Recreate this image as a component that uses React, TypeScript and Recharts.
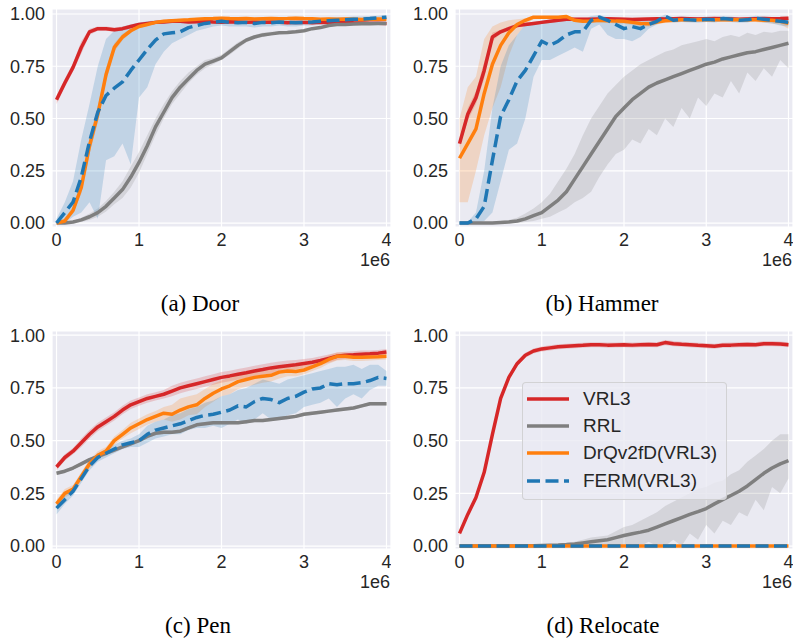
import { ComposedChart, Line, Area, XAxis, YAxis, CartesianGrid } from "recharts";

// training steps, in units of 1e6
const STEPS = [
  0, 0.1, 0.2, 0.3, 0.4, 0.5, 0.6, 0.7, 0.8, 0.9,
  1.0, 1.1, 1.2, 1.3, 1.4, 1.5, 1.6, 1.7, 1.8, 1.9,
  2.0, 2.1, 2.2, 2.3, 2.4, 2.5, 2.6, 2.7, 2.8, 2.9,
  3.0, 3.1, 3.2, 3.3, 3.4, 3.5, 3.6, 3.7, 3.8, 3.9,
  4.0,
];
const X_TICKS = [0, 1, 2, 3, 4];
const Y_TICKS = [0, 0.25, 0.5, 0.75, 1];

// ---- Door ----
const doorVrl3 = [0.59,0.67,0.745,0.84,0.915,0.93,0.93,0.925,0.93,0.94,0.95,0.955,0.96,0.962,0.965,0.965,0.962,0.963,0.965,0.962,0.96,0.963,0.962,0.96,0.962,0.96,0.962,0.96,0.958,0.96,0.96,0.958,0.96,0.96,0.958,0.96,0.958,0.957,0.956,0.956,0.955];
const doorVrl3Lo = [0.57,0.65,0.725,0.81,0.9,0.92,0.92,0.915,0.92,0.93,0.942,0.948,0.953,0.955,0.958,0.958,0.955,0.956,0.958,0.955,0.953,0.956,0.955,0.953,0.955,0.953,0.955,0.953,0.951,0.953,0.953,0.951,0.953,0.953,0.951,0.953,0.951,0.95,0.949,0.949,0.948];
const doorVrl3Hi = [0.61,0.69,0.765,0.87,0.93,0.94,0.94,0.935,0.94,0.95,0.958,0.962,0.967,0.969,0.972,0.972,0.969,0.97,0.972,0.969,0.967,0.97,0.969,0.967,0.969,0.967,0.969,0.967,0.965,0.967,0.967,0.965,0.967,0.967,0.965,0.967,0.965,0.964,0.963,0.963,0.962];
const doorRrl = [0,0,0.005,0.015,0.03,0.05,0.08,0.12,0.16,0.22,0.29,0.37,0.46,0.53,0.6,0.65,0.69,0.73,0.76,0.775,0.79,0.82,0.85,0.875,0.89,0.9,0.905,0.91,0.912,0.915,0.92,0.93,0.935,0.945,0.95,0.95,0.952,0.953,0.954,0.955,0.955];
const doorRrlLo = [0,0,0,0.005,0.015,0.03,0.055,0.09,0.12,0.17,0.24,0.33,0.42,0.5,0.57,0.62,0.67,0.71,0.74,0.76,0.78,0.805,0.835,0.865,0.88,0.89,0.9,0.905,0.905,0.91,0.915,0.925,0.93,0.94,0.945,0.945,0.948,0.948,0.95,0.95,0.95];
const doorRrlHi = [0.005,0.005,0.01,0.025,0.045,0.07,0.105,0.15,0.2,0.27,0.34,0.42,0.5,0.57,0.63,0.68,0.72,0.75,0.78,0.79,0.805,0.835,0.865,0.885,0.9,0.91,0.915,0.915,0.92,0.922,0.925,0.935,0.94,0.95,0.955,0.956,0.958,0.958,0.958,0.96,0.96];
const doorDrq = [0,0.01,0.06,0.17,0.37,0.52,0.71,0.84,0.89,0.92,0.94,0.95,0.96,0.965,0.968,0.97,0.972,0.975,0.977,0.978,0.98,0.978,0.977,0.978,0.976,0.977,0.978,0.977,0.978,0.98,0.978,0.977,0.975,0.976,0.975,0.976,0.975,0.974,0.975,0.976,0.975];
const doorDrqLo = [0,0.005,0.045,0.14,0.33,0.48,0.68,0.82,0.875,0.91,0.932,0.943,0.953,0.958,0.961,0.963,0.965,0.968,0.97,0.971,0.973,0.971,0.97,0.971,0.969,0.97,0.971,0.97,0.971,0.973,0.971,0.97,0.968,0.969,0.968,0.969,0.968,0.967,0.968,0.969,0.968];
const doorDrqHi = [0.005,0.02,0.08,0.2,0.41,0.56,0.74,0.86,0.905,0.93,0.948,0.957,0.967,0.972,0.975,0.977,0.979,0.982,0.984,0.985,0.987,0.985,0.984,0.985,0.983,0.984,0.985,0.984,0.985,0.987,0.985,0.984,0.982,0.983,0.982,0.983,0.982,0.981,0.982,0.983,0.982];
const doorFerm = [0,0.05,0.1,0.22,0.39,0.53,0.61,0.645,0.675,0.73,0.78,0.83,0.875,0.905,0.91,0.915,0.935,0.945,0.955,0.96,0.965,0.96,0.958,0.96,0.955,0.96,0.958,0.962,0.96,0.958,0.96,0.962,0.965,0.968,0.97,0.972,0.975,0.975,0.978,0.982,0.985];
const doorFermLo = [0,0,0.03,0.05,0.1,0.02,0.3,0.32,0.38,0.28,0.6,0.65,0.76,0.82,0.86,0.88,0.9,0.92,0.93,0.94,0.945,0.94,0.94,0.94,0.935,0.94,0.94,0.945,0.94,0.94,0.945,0.945,0.95,0.952,0.955,0.958,0.96,0.96,0.965,0.97,0.972];
const doorFermHi = [0.02,0.1,0.2,0.4,0.57,0.75,0.88,0.92,0.94,0.95,0.96,0.965,0.97,0.97,0.97,0.972,0.975,0.978,0.98,0.978,0.98,0.978,0.975,0.977,0.975,0.977,0.976,0.978,0.977,0.976,0.977,0.978,0.98,0.982,0.985,0.985,0.988,0.988,0.99,0.992,0.995];

// ---- Hammer ----
const hammerVrl3 = [0.38,0.52,0.6,0.73,0.89,0.915,0.93,0.945,0.95,0.955,0.96,0.965,0.97,0.975,0.975,0.975,0.975,0.976,0.977,0.976,0.975,0.974,0.975,0.976,0.977,0.976,0.977,0.978,0.977,0.976,0.977,0.978,0.977,0.976,0.975,0.976,0.977,0.978,0.977,0.978,0.98];
const hammerVrl3Lo = [0.36,0.49,0.57,0.69,0.87,0.905,0.92,0.937,0.942,0.947,0.952,0.957,0.962,0.967,0.967,0.967,0.967,0.968,0.969,0.968,0.967,0.966,0.967,0.968,0.969,0.968,0.969,0.97,0.969,0.968,0.969,0.97,0.969,0.968,0.967,0.968,0.969,0.97,0.969,0.97,0.972];
const hammerVrl3Hi = [0.4,0.55,0.63,0.77,0.91,0.925,0.94,0.953,0.958,0.963,0.968,0.973,0.978,0.983,0.983,0.983,0.983,0.984,0.985,0.984,0.983,0.982,0.983,0.984,0.985,0.984,0.985,0.986,0.985,0.984,0.985,0.986,0.985,0.984,0.983,0.984,0.985,0.986,0.985,0.986,0.988];
const hammerRrl = [0,0,0,0,0,0.003,0.005,0.01,0.02,0.035,0.05,0.08,0.11,0.15,0.21,0.27,0.33,0.39,0.45,0.51,0.55,0.59,0.62,0.65,0.67,0.685,0.7,0.715,0.73,0.745,0.76,0.77,0.785,0.795,0.805,0.815,0.82,0.83,0.84,0.85,0.86];
const hammerRrlLo = [0,0,0,0,0,0,0,0,0.005,0.01,0.02,0.03,0.05,0.07,0.1,0.12,0.15,0.22,0.28,0.33,0.35,0.4,0.38,0.45,0.42,0.5,0.46,0.55,0.5,0.6,0.56,0.62,0.6,0.68,0.62,0.72,0.68,0.74,0.7,0.78,0.74];
const hammerRrlHi = [0,0,0,0,0.005,0.01,0.015,0.025,0.045,0.07,0.1,0.14,0.2,0.26,0.33,0.42,0.5,0.56,0.62,0.66,0.7,0.73,0.76,0.78,0.8,0.82,0.83,0.85,0.86,0.87,0.88,0.87,0.89,0.9,0.89,0.91,0.9,0.915,0.91,0.92,0.92];
const hammerDrq = [0.31,0.38,0.45,0.62,0.76,0.85,0.91,0.95,0.97,0.985,0.985,0.985,0.985,0.988,0.97,0.965,0.967,0.97,0.968,0.966,0.965,0.96,0.955,0.953,0.962,0.968,0.97,0.972,0.973,0.972,0.974,0.973,0.972,0.973,0.972,0.973,0.972,0.97,0.97,0.965,0.955];
const hammerDrqLo = [0.1,0.1,0.25,0.42,0.55,0.65,0.8,0.9,0.95,0.975,0.977,0.977,0.977,0.98,0.962,0.957,0.958,0.96,0.958,0.955,0.953,0.948,0.94,0.94,0.95,0.958,0.96,0.962,0.963,0.962,0.964,0.963,0.962,0.963,0.962,0.963,0.962,0.958,0.955,0.95,0.93];
const hammerDrqHi = [0.5,0.65,0.7,0.88,0.94,0.96,0.97,0.975,0.98,0.992,0.992,0.992,0.992,0.995,0.98,0.975,0.977,0.98,0.978,0.977,0.977,0.973,0.97,0.968,0.975,0.978,0.98,0.982,0.983,0.982,0.984,0.983,0.982,0.983,0.982,0.983,0.982,0.98,0.98,0.978,0.975];
const hammerFerm = [0,0,0.02,0.08,0.3,0.51,0.59,0.68,0.73,0.8,0.87,0.85,0.87,0.9,0.915,0.915,0.97,0.985,0.97,0.95,0.93,0.94,0.93,0.95,0.965,0.99,0.97,0.975,0.972,0.97,0.975,0.972,0.978,0.975,0.97,0.972,0.98,0.975,0.97,0.965,0.96];
const hammerFermLo = [0,0,0,0.01,0.05,0.2,0.35,0.38,0.5,0.7,0.78,0.78,0.8,0.82,0.84,0.82,0.93,0.95,0.9,0.88,0.88,0.87,0.89,0.93,0.95,0.975,0.96,0.962,0.96,0.958,0.962,0.96,0.965,0.962,0.958,0.96,0.968,0.96,0.955,0.945,0.94];
const hammerFermHi = [0,0.005,0.05,0.25,0.55,0.75,0.85,0.9,0.95,0.96,0.97,0.97,0.97,0.97,0.97,0.97,0.99,0.995,0.985,0.98,0.975,0.975,0.972,0.972,0.98,0.998,0.985,0.988,0.985,0.982,0.988,0.985,0.99,0.988,0.982,0.985,0.992,0.988,0.985,0.978,0.975];

// ---- Pen ----
const penVrl3 = [0.375,0.42,0.45,0.49,0.53,0.565,0.59,0.615,0.645,0.67,0.685,0.7,0.71,0.72,0.735,0.75,0.76,0.77,0.78,0.79,0.8,0.807,0.815,0.822,0.83,0.837,0.845,0.85,0.855,0.86,0.866,0.872,0.88,0.89,0.9,0.905,0.907,0.91,0.912,0.915,0.92];
const penVrl3Lo = [0.36,0.405,0.435,0.47,0.51,0.545,0.57,0.595,0.625,0.65,0.665,0.68,0.69,0.7,0.71,0.725,0.735,0.745,0.755,0.765,0.775,0.782,0.79,0.797,0.805,0.812,0.82,0.825,0.83,0.838,0.845,0.852,0.86,0.87,0.882,0.888,0.89,0.893,0.896,0.9,0.905];
const penVrl3Hi = [0.39,0.435,0.465,0.51,0.55,0.585,0.61,0.635,0.665,0.69,0.705,0.72,0.73,0.74,0.76,0.775,0.785,0.795,0.805,0.815,0.825,0.832,0.84,0.847,0.855,0.862,0.87,0.875,0.88,0.882,0.887,0.892,0.9,0.908,0.918,0.922,0.924,0.927,0.928,0.93,0.935];
const penRrl = [0.345,0.355,0.37,0.39,0.41,0.425,0.44,0.455,0.47,0.485,0.5,0.52,0.535,0.54,0.54,0.545,0.56,0.575,0.58,0.585,0.585,0.585,0.585,0.59,0.595,0.595,0.6,0.605,0.61,0.615,0.625,0.63,0.635,0.64,0.645,0.65,0.655,0.665,0.675,0.675,0.675];
const penRrlLo = [0.337,0.347,0.362,0.382,0.402,0.417,0.432,0.447,0.462,0.477,0.492,0.512,0.527,0.532,0.532,0.537,0.552,0.567,0.572,0.577,0.577,0.577,0.577,0.582,0.587,0.587,0.592,0.597,0.602,0.607,0.617,0.622,0.627,0.632,0.637,0.642,0.647,0.657,0.667,0.667,0.667];
const penRrlHi = [0.353,0.363,0.378,0.398,0.418,0.433,0.448,0.463,0.478,0.493,0.508,0.528,0.543,0.548,0.548,0.553,0.568,0.583,0.588,0.593,0.593,0.593,0.593,0.598,0.603,0.603,0.608,0.613,0.618,0.623,0.633,0.638,0.643,0.648,0.653,0.658,0.663,0.673,0.683,0.683,0.683];
const penDrq = [0.2,0.25,0.27,0.33,0.39,0.43,0.45,0.5,0.53,0.56,0.58,0.6,0.615,0.63,0.625,0.645,0.66,0.67,0.7,0.725,0.745,0.76,0.78,0.79,0.8,0.805,0.81,0.825,0.83,0.828,0.835,0.85,0.865,0.885,0.9,0.9,0.895,0.895,0.897,0.898,0.9];
const penDrqLo = [0.18,0.23,0.25,0.31,0.37,0.41,0.43,0.48,0.51,0.535,0.555,0.575,0.59,0.6,0.59,0.6,0.62,0.625,0.66,0.685,0.71,0.72,0.745,0.755,0.765,0.775,0.78,0.795,0.805,0.805,0.815,0.83,0.845,0.865,0.88,0.882,0.878,0.878,0.88,0.882,0.885];
const penDrqHi = [0.22,0.27,0.29,0.35,0.41,0.45,0.47,0.52,0.55,0.585,0.605,0.625,0.64,0.66,0.67,0.7,0.71,0.72,0.745,0.77,0.785,0.8,0.815,0.825,0.835,0.84,0.845,0.855,0.855,0.852,0.858,0.87,0.885,0.905,0.918,0.918,0.912,0.912,0.914,0.915,0.915];
const penFerm = [0.18,0.22,0.26,0.32,0.38,0.42,0.44,0.46,0.48,0.49,0.5,0.53,0.55,0.56,0.57,0.58,0.595,0.61,0.62,0.625,0.635,0.645,0.665,0.66,0.685,0.7,0.695,0.68,0.7,0.71,0.73,0.745,0.75,0.77,0.765,0.77,0.77,0.775,0.785,0.8,0.795];
const penFermLo = [0.15,0.2,0.24,0.3,0.36,0.4,0.42,0.44,0.46,0.47,0.47,0.49,0.51,0.52,0.53,0.53,0.55,0.56,0.56,0.57,0.56,0.58,0.6,0.58,0.6,0.63,0.6,0.6,0.62,0.63,0.66,0.67,0.68,0.7,0.66,0.7,0.72,0.7,0.74,0.76,0.76];
const penFermHi = [0.21,0.24,0.28,0.34,0.4,0.44,0.46,0.48,0.5,0.51,0.53,0.57,0.59,0.6,0.62,0.63,0.65,0.66,0.68,0.69,0.71,0.72,0.74,0.75,0.77,0.79,0.78,0.77,0.79,0.8,0.81,0.82,0.83,0.84,0.85,0.85,0.86,0.84,0.86,0.86,0.83];

// ---- Relocate ----
const relocVrl3 = [0.06,0.15,0.23,0.35,0.53,0.7,0.8,0.865,0.905,0.925,0.935,0.94,0.945,0.948,0.95,0.952,0.955,0.955,0.953,0.954,0.955,0.953,0.955,0.956,0.955,0.965,0.96,0.957,0.955,0.952,0.95,0.948,0.952,0.953,0.955,0.956,0.955,0.96,0.96,0.958,0.955];
const relocVrl3Lo = [0.048,0.138,0.218,0.338,0.515,0.685,0.787,0.853,0.893,0.913,0.923,0.928,0.933,0.936,0.938,0.94,0.943,0.943,0.941,0.942,0.943,0.941,0.943,0.944,0.943,0.953,0.948,0.945,0.943,0.94,0.938,0.936,0.94,0.941,0.943,0.944,0.943,0.948,0.948,0.946,0.943];
const relocVrl3Hi = [0.072,0.162,0.242,0.362,0.545,0.715,0.813,0.877,0.917,0.937,0.947,0.952,0.957,0.96,0.962,0.964,0.967,0.967,0.965,0.966,0.967,0.965,0.967,0.968,0.967,0.977,0.972,0.969,0.967,0.964,0.962,0.96,0.964,0.965,0.967,0.968,0.967,0.972,0.972,0.97,0.967];
const relocRrl = [0,0,0,0,0,0,0,0,0.001,0.002,0.003,0.004,0.005,0.007,0.01,0.015,0.02,0.025,0.03,0.04,0.05,0.058,0.066,0.075,0.09,0.105,0.12,0.135,0.15,0.163,0.178,0.2,0.22,0.24,0.26,0.285,0.315,0.345,0.37,0.39,0.405];
const relocRrlLo = [0,0,0,0,0,0,0,0,0,0,0,0,0,0,0,0,0,0,0,0,0,0.01,0,0.02,0,0,0.03,0,0.06,0.03,0.1,0.06,0.12,0.1,0.16,0.14,0.22,0.17,0.28,0.25,0.32];
const relocRrlHi = [0,0,0,0,0,0,0,0,0.002,0.004,0.006,0.008,0.01,0.015,0.02,0.03,0.04,0.045,0.05,0.07,0.09,0.1,0.12,0.14,0.16,0.19,0.21,0.23,0.25,0.27,0.28,0.3,0.31,0.34,0.36,0.4,0.43,0.46,0.5,0.53,0.53];
const relocDrq = [0,0,0,0,0,0,0,0,0,0,0,0,0,0,0,0,0,0,0,0,0,0,0,0,0,0,0,0,0,0,0,0,0,0,0,0,0,0,0,0,0];
const relocFerm = [0,0,0,0,0,0,0,0,0,0,0,0,0,0,0,0,0,0,0,0,0,0,0,0,0,0,0,0,0,0,0,0,0,0,0,0,0,0,0,0,0];

const SERIES = [
  { key: "vrl3", name: "VRL3", color: "#d62728", dash: undefined },
  { key: "rrl", name: "RRL", color: "#7f7f7f", dash: undefined },
  { key: "drq", name: "DrQv2fD(VRL3)", color: "#ff7f0e", dash: undefined },
  { key: "ferm", name: "FERM(VRL3)", color: "#1f77b4", dash: "13 5.5" },
];

const TOP_Y = [-0.019, 1.024];
const BOTTOM_Y = [-0.014, 1.02];
const X_DOMAIN = [-0.055, 4.055];

const PANELS = [
  {
    id: "door", caption: "(a) Door", left: 0, top: 0, width: 391, yDomain: TOP_Y,
    series: {
      vrl3: [doorVrl3, doorVrl3Lo, doorVrl3Hi],
      rrl: [doorRrl, doorRrlLo, doorRrlHi],
      drq: [doorDrq, doorDrqLo, doorDrqHi],
      ferm: [doorFerm, doorFermLo, doorFermHi],
    },
  },
  {
    id: "hammer", caption: "(b) Hammer", left: 403, top: 0, width: 390, yDomain: TOP_Y,
    series: {
      vrl3: [hammerVrl3, hammerVrl3Lo, hammerVrl3Hi],
      rrl: [hammerRrl, hammerRrlLo, hammerRrlHi],
      drq: [hammerDrq, hammerDrqLo, hammerDrqHi],
      ferm: [hammerFerm, hammerFermLo, hammerFermHi],
    },
  },
  {
    id: "pen", caption: "(c) Pen", left: 0, top: 322, width: 391, yDomain: BOTTOM_Y,
    series: {
      vrl3: [penVrl3, penVrl3Lo, penVrl3Hi],
      rrl: [penRrl, penRrlLo, penRrlHi],
      drq: [penDrq, penDrqLo, penDrqHi],
      ferm: [penFerm, penFermLo, penFermHi],
    },
  },
  {
    id: "reloc", caption: "(d) Relocate", left: 403, top: 322, width: 390, yDomain: BOTTOM_Y,
    series: {
      vrl3: [relocVrl3, relocVrl3Lo, relocVrl3Hi],
      rrl: [relocRrl, relocRrlLo, relocRrlHi],
      drq: [relocDrq, relocDrq, relocDrq],
      ferm: [relocFerm, relocFerm, relocFerm],
    },
  },
];

const SANS = "'Liberation Sans', Arial, Helvetica, sans-serif";
const SERIF = "'Liberation Serif', 'Times New Roman', serif";
const TEXT = "#262626";
const tickStyle = { fontFamily: SANS, fontSize: 18, fill: TEXT };

function Panel({ cfg }) {
  const rows = STEPS.map((x, i) => {
    const row: Record<string, any> = { x };
    for (const s of SERIES) {
      const [mean, lo, hi] = cfg.series[s.key];
      row[s.key] = mean[i];
      row[s.key + "Band"] = [lo[i], hi[i]];
    }
    return row;
  });

  const marks = [];
  for (const s of SERIES) {
    marks.push(
      <Area
        key={s.key + "-band"}
        type="linear"
        dataKey={s.key + "Band"}
        stroke="none"
        fill={s.color}
        fillOpacity={0.2}
        dot={false}
        activeDot={false}
        isAnimationActive={false}
      />
    );
    marks.push(
      <Line
        key={s.key}
        type="linear"
        dataKey={s.key}
        stroke={s.color}
        strokeWidth={3.5}
        strokeDasharray={s.dash}
        strokeLinejoin="round"
        dot={false}
        activeDot={false}
        isAnimationActive={false}
      />
    );
  }

  return (
    <div style={{ position: "absolute", left: cfg.left, top: cfg.top }}>
      <ComposedChart
        width={cfg.width}
        height={257}
        data={rows}
        margin={{ top: 9, right: 0, bottom: 0, left: 0 }}
      >
        <CartesianGrid fill="#eaeaf2" stroke="#ffffff" strokeWidth={1.2} />
        <XAxis
          type="number"
          dataKey="x"
          domain={X_DOMAIN}
          ticks={X_TICKS}
          interval={0}
          allowDataOverflow
          axisLine={false}
          tickLine={false}
          tickSize={0}
          tickMargin={6}
          height={30}
          tick={tickStyle}
        />
        <YAxis
          type="number"
          domain={cfg.yDomain}
          ticks={Y_TICKS}
          interval={0}
          allowDataOverflow
          axisLine={false}
          tickLine={false}
          tickSize={0}
          tickMargin={7}
          width={52}
          tick={tickStyle}
          tickFormatter={(v) => Number(v).toFixed(2)}
        />
        {marks}
      </ComposedChart>
    </div>
  );
}

function LegendBox() {
  return (
    <div
      style={{
        position: "absolute",
        left: 522,
        top: 382,
        width: 203,
        height: 114,
        border: "1px solid rgba(204,204,204,0.8)",
        borderRadius: 4,
        background: "rgba(234,234,242,0.8)",
        paddingTop: 2,
        boxSizing: "content-box",
      }}
    >
      {SERIES.map((s) => (
        <div
          key={s.key}
          style={{ display: "flex", alignItems: "center", height: 27.3, paddingLeft: 4 }}
        >
          <svg width={42} height={8} style={{ marginRight: 14, flexShrink: 0 }}>
            <line
              x1={0}
              y1={4}
              x2={42}
              y2={4}
              stroke={s.color}
              strokeWidth={3.5}
              strokeDasharray={s.dash}
            />
          </svg>
          <span style={{ fontFamily: SANS, fontSize: 19, color: TEXT, whiteSpace: "nowrap" }}>
            {s.name}
          </span>
        </div>
      ))}
    </div>
  );
}

export default function App() {
  return (
    <div
      style={{
        position: "absolute",
        left: 0,
        top: 0,
        width: 793,
        height: 638,
        overflow: "hidden",
        background: "#ffffff",
      }}
    >
      <svg width={793} height={638} style={{ position: "absolute", left: 0, top: 0 }}>
        <text x={390} y={266} textAnchor="end" fontFamily={SANS} fontSize={18} fill={TEXT}>1e6</text>
        <text x={792} y={266} textAnchor="end" fontFamily={SANS} fontSize={18} fill={TEXT}>1e6</text>
        <text x={390} y={588} textAnchor="end" fontFamily={SANS} fontSize={18} fill={TEXT}>1e6</text>
        <text x={792} y={588} textAnchor="end" fontFamily={SANS} fontSize={18} fill={TEXT}>1e6</text>
        <text x={200} y={311} textAnchor="middle" fontFamily={SERIF} fontSize={23} fill="#000">{PANELS[0].caption}</text>
        <text x={602} y={311} textAnchor="middle" fontFamily={SERIF} fontSize={23} fill="#000">{PANELS[1].caption}</text>
        <text x={198} y={633} textAnchor="middle" fontFamily={SERIF} fontSize={23} fill="#000">{PANELS[2].caption}</text>
        <text x={603} y={633} textAnchor="middle" fontFamily={SERIF} fontSize={23} fill="#000">{PANELS[3].caption}</text>
      </svg>
      {PANELS.map((p) => (
        <Panel key={p.id} cfg={p} />
      ))}
      <LegendBox />
    </div>
  );
}
